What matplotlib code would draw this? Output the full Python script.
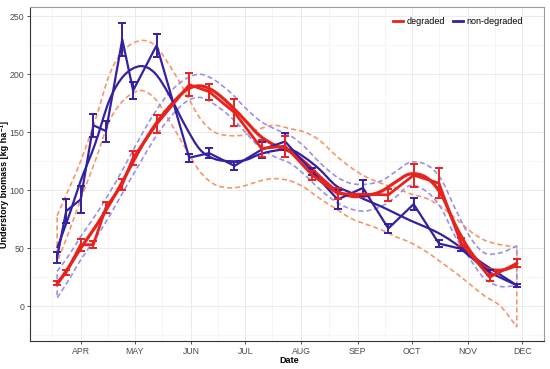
import matplotlib
matplotlib.use("Agg")
import matplotlib.pyplot as plt
import matplotlib.dates as mdates
from matplotlib.path import Path
from matplotlib.patches import PathPatch
from matplotlib.lines import Line2D
import numpy as np
import pandas as pd

plt.rcParams['font.family'] = ['Liberation Sans', 'DejaVu Sans']

# ---------------- data ----------------
# observed means +- error, degraded
deg_dates = ['2019-03-19', '2019-03-24', '2019-04-01', '2019-04-08', '2019-04-15', '2019-04-24',
             '2019-04-30', '2019-05-13', '2019-05-31', '2019-06-11', '2019-06-25', '2019-07-10',
             '2019-07-23', '2019-08-07', '2019-08-21', '2019-09-18', '2019-10-02', '2019-10-16',
             '2019-10-28', '2019-11-13', '2019-11-28']
deg_mean = [20, 29, 53, 53, 85, 105, 128, 157, 191, 185, 167, 136, 138, 113, 97, 96, 113, 106, 55, 25, 37]
deg_err = [2, 2.5, 5, 3, 4.5, 5, 6, 8, 10, 7, 12, 7, 9, 4, 5, 5, 10, 13, 3.5, 3, 3.5]

# observed means +- error, non-degraded
non_dates = ['2019-03-19', '2019-03-24', '2019-04-01', '2019-04-08', '2019-04-15', '2019-04-24',
             '2019-04-30', '2019-05-13', '2019-05-31', '2019-06-11', '2019-06-25', '2019-07-10',
             '2019-07-23', '2019-08-07', '2019-08-21', '2019-09-04', '2019-09-18', '2019-10-02',
             '2019-10-16', '2019-10-28', '2019-11-13', '2019-11-28']
non_mean = [42, 82, 92, 156, 151, 230, 186, 225, 128, 132, 121, 135, 142, 116, 92, 102, 67, 88, 54, 49.5, 29, 18]
non_err = [4.5, 10, 11.5, 10, 9, 14, 7.5, 10, 3.6, 4, 3.7, 7, 7, 3.3, 8, 7, 4, 5, 3, 1.7, 2, 1.5]

# smoothed trends with confidence bands (read at knots)
smooth_dates = ['2019-03-19', '2019-03-26', '2019-04-01', '2019-04-09', '2019-04-17', '2019-04-25',
                '2019-05-04', '2019-05-12', '2019-05-20', '2019-05-29', '2019-06-06', '2019-06-14',
                '2019-06-23', '2019-07-01', '2019-07-09', '2019-07-17', '2019-07-26', '2019-08-03',
                '2019-08-11', '2019-08-20', '2019-08-28', '2019-09-05', '2019-09-14', '2019-09-22',
                '2019-09-30', '2019-10-09', '2019-10-17', '2019-10-25', '2019-11-02', '2019-11-10',
                '2019-11-19', '2019-11-28']
non_fit = [50, 80, 108, 140, 178, 199, 207, 201, 182, 155, 135, 127, 125, 126, 131, 134, 135, 128,
           118, 104, 98, 92, 86, 80, 74, 68, 62, 54, 45, 36, 27, 18]
non_hi = [78, 103, 125, 160, 200, 221, 229, 225, 208, 184, 162, 150, 147, 148, 153, 156, 153, 150,
          143, 130, 120, 112, 106, 102, 97, 93, 86, 76, 65, 57, 53, 51]
non_lo = [38, 66, 92, 125, 160, 178, 186, 179, 160, 136, 116, 105, 102, 104, 108, 110, 108, 102,
          93, 84, 76, 71, 66, 60, 55, 47, 38, 29, 19, 9, 0, -18]
deg_fit = [19, 35, 50, 68, 88, 110, 136, 156, 172, 186, 190, 185, 173, 160, 147, 139, 133, 124,
           112, 100, 95, 95, 99, 107, 114, 111, 97, 70, 48, 34, 31, 35]
deg_hi = [30, 45, 60, 78, 98, 120, 146, 167, 184, 196, 200, 195, 184, 171, 160, 153, 147, 137,
          124, 112, 106, 105, 108, 116, 124, 122, 110, 84, 60, 46, 46, 52]
deg_lo = [7, 24, 40, 58, 78, 100, 124, 145, 162, 176, 180, 174, 163, 150, 137, 129, 123, 113,
          101, 90, 84, 82, 86, 94, 104, 99, 85, 60, 41, 24, 17, 18]

month_ticks = ['2019-04-01', '2019-05-01', '2019-06-01', '2019-07-01', '2019-08-01',
               '2019-09-01', '2019-10-01', '2019-11-01', '2019-12-01']
month_labels = ['APR', 'MAY', 'JUN', 'JUL', 'AUG', 'SEP', 'OCT', 'NOV', 'DEC']

RED = '#E8231E'
BLUE = '#3420A0'
ORANGE = '#F7966A'
PURPLE = '#9D8FE3'


def d2n(ds):
    return mdates.date2num(pd.to_datetime(ds).to_pydatetime())


def bezier_verts(x, y):
    """Catmull-Rom knots -> cubic Bezier vertices/codes"""
    x = np.asarray(x, float)
    y = np.asarray(y, float)
    n = len(x)
    verts = [(x[0], y[0])]
    codes = [Path.MOVETO]
    for i in range(n - 1):
        p0 = (x[max(i - 1, 0)], y[max(i - 1, 0)])
        p1 = (x[i], y[i])
        p2 = (x[i + 1], y[i + 1])
        p3 = (x[min(i + 2, n - 1)], y[min(i + 2, n - 1)])
        c1 = (p1[0] + (p2[0] - p0[0]) / 6, p1[1] + (p2[1] - p0[1]) / 6)
        c2 = (p2[0] - (p3[0] - p1[0]) / 6, p2[1] - (p3[1] - p1[1]) / 6)
        verts += [c1, c2, p2]
        codes += [Path.CURVE4] * 3
    return verts, codes


def smooth_line(ax, x, y, **kw):
    v, c = bezier_verts(x, y)
    ax.add_patch(PathPatch(Path(v, c), fill=False, **kw))


def band_outline(ax, x, lo, hi, **kw):
    vu, cu = bezier_verts(x, hi)
    vl, cl = bezier_verts(x[::-1], lo[::-1])
    cl[0] = Path.LINETO
    verts = vu + vl + [vu[0]]
    codes = cu + cl + [Path.LINETO]
    ax.add_patch(PathPatch(Path(verts, codes), fill=False, **kw))


fig = plt.figure(figsize=(5.5, 3.69), dpi=100)
ax = fig.add_axes([0.0545, 0.076, 0.9345, 0.905])

xs = d2n(smooth_dates)
dash = dict(linestyle=(0, (3.0, 1.8)), linewidth=1.2, zorder=3)
band_outline(ax, xs, np.array(non_lo), np.array(non_hi), edgecolor=ORANGE, **dash)
band_outline(ax, xs, np.array(deg_lo), np.array(deg_hi), edgecolor=PURPLE, **dash)

smooth_line(ax, xs, non_fit, edgecolor=BLUE, linewidth=1.6, zorder=4)
smooth_line(ax, xs, deg_fit, edgecolor=RED, linewidth=2.3, zorder=5)

ax.errorbar(d2n(non_dates), non_mean, yerr=non_err, color=BLUE, linewidth=1.6,
            elinewidth=1.4, capsize=3.2, capthick=1.4, zorder=6)
ax.errorbar(d2n(deg_dates), deg_mean, yerr=deg_err, color=RED, linewidth=2.0,
            elinewidth=1.4, capsize=3.2, capthick=1.4, zorder=7)

# axes styling
ax.set_xlim(d2n('2019-03-04'), d2n('2019-12-13'))
ax.set_ylim(-30, 258)
ax.set_xticks(d2n(month_ticks))
ax.set_xticklabels(month_labels)
ax.set_xticks(d2n(['2019-03-16', '2019-04-16', '2019-05-16', '2019-06-16', '2019-07-16',
                   '2019-08-16', '2019-09-16', '2019-10-16', '2019-11-16']), minor=True)
ax.set_yticks([0, 50, 100, 150, 200, 250])
ax.set_yticks([-25, 25, 75, 125, 175, 225], minor=True)
ax.grid(which='major', color='#EBEBEB', linewidth=0.7, zorder=0)
ax.grid(which='minor', color='#F2F2F2', linewidth=0.5, zorder=0)
ax.set_axisbelow(True)
ax.tick_params(which='major', length=2.5, width=0.6, color='#333333', labelsize=6.3,
               labelcolor='#4D4D4D', pad=1.5)
ax.tick_params(which='minor', length=0)
for s in ['top', 'right']:
    ax.spines[s].set_color('#9A9A9A')
    ax.spines[s].set_linewidth(0.8)
for s in ['left', 'bottom']:
    ax.spines[s].set_color('#333333')
    ax.spines[s].set_linewidth(0.8)

ax.set_xlabel('Date', fontsize=6.5, fontweight='bold')
ax.xaxis.set_label_coords(0.505, -0.045)
ax.set_ylabel('Understory biomass [kg ha⁻¹]', fontsize=6.5, fontweight='bold')
ax.yaxis.set_label_coords(-0.0405, 0.47)

handles = [Line2D([], [], color=RED, linewidth=2.0), Line2D([], [], color=BLUE, linewidth=2.0)]
ax.legend(handles, ['degraded', 'non-degraded'], loc='upper right', ncol=2, frameon=False,
          fontsize=6.5, handlelength=1.1, handletextpad=0.4, columnspacing=0.9,
          bbox_to_anchor=(0.975, 0.995))

fig.savefig('out.png', dpi=100)
